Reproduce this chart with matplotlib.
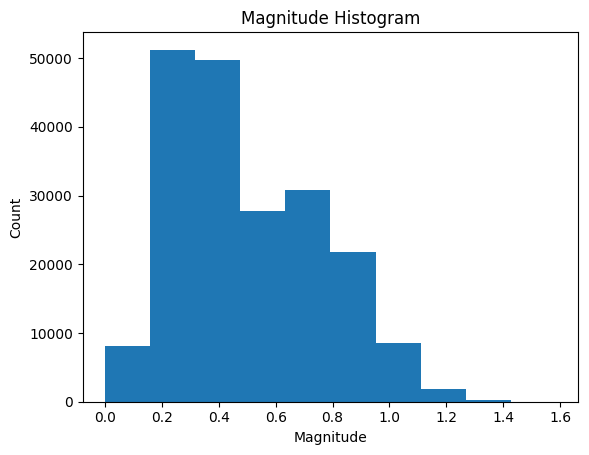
import numpy as np
import matplotlib
matplotlib.use("Agg")
import matplotlib.pyplot as plt

bin_min = 0.0
bin_max = 1.585
counts = [8150, 51190, 49740, 27760, 30815, 21830, 8590, 1850, 290, 20]

edges = np.linspace(bin_min, bin_max, len(counts) + 1)
centers = (edges[:-1] + edges[1:]) / 2

fig = plt.figure(figsize=(5.89, 4.55), dpi=100)
ax = fig.add_axes([0.1404, 0.1171, 0.9818 - 0.1404, 0.9288 - 0.1171])
ax.hist(centers, bins=edges, weights=counts, color="#1f77b4")
ax.set_title("Magnitude Histogram")
ax.set_xlabel("Magnitude")
ax.set_ylabel("Count")
fig.savefig("out.png", dpi=100)
